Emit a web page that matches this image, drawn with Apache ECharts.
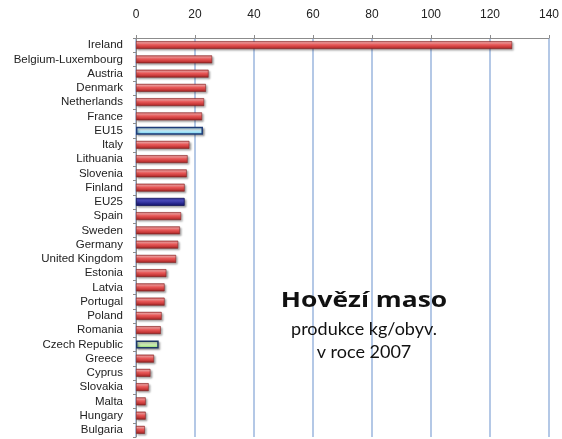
<!DOCTYPE html>
<html><head><meta charset="utf-8">
<script src="https://cdn.jsdelivr.net/npm/echarts@6/dist/echarts.min.js"></script>
<style>html,body{margin:0;padding:0;background:#fff}#c{width:562px;height:439px}</style>
</head><body><div id="c"></div>
<script>
const categories = ["Ireland","Belgium-Luxembourg","Austria","Denmark","Netherlands","France","EU15","Italy","Lithuania","Slovenia","Finland","EU25","Spain","Sweden","Germany","United Kingdom","Estonia","Latvia","Portugal","Poland","Romania","Czech Republic","Greece","Cyprus","Slovakia","Malta","Hungary","Bulgaria"];
const values = [127.5,25.8,24.6,23.7,23.1,22.4,22.7,18.1,17.5,17.2,16.5,16.5,15.3,14.9,14.3,13.6,10.3,9.7,9.7,8.7,8.4,7.7,6.1,4.9,4.3,3.3,3.3,3.0];
const xTicks = {min:0, max:140, interval:20};
const titleLines = ["Hovězí maso","produkce kg/obyv.","v roce 2007"];

function grad(stops){return new echarts.graphic.LinearGradient(0,0,0,1,stops.map((c,i)=>({offset:c[0],color:c[1]})));}
const redFill = grad([[0,'#b83a3a'],[0.2,'#ffa0a0'],[0.45,'#ec5a5a'],[0.8,'#c03434'],[1,'#7e1e1e']]);
const styles = {
  "EU15": {color: grad([[0,'#8fdcf5'],[0.35,'#e6faff'],[0.7,'#9fe3f8'],[1,'#5ab8dc']]), borderColor:'#1f3c78', borderWidth:1.5},
  "EU25": {color: grad([[0,'#3030a0'],[0.3,'#5050c8'],[0.7,'#28288e'],[1,'#16166a']]), borderColor:'#14145a', borderWidth:0.8},
  "Czech Republic": {color: grad([[0,'#b0e890'],[0.35,'#eaffd8'],[0.7,'#b8ec98'],[1,'#84c862']]), borderColor:'#1f3864', borderWidth:1.5}
};
const data = categories.map((c,i)=>{
  const s = styles[c] || {color: redFill, borderColor:'#8a2626', borderWidth:0.6};
  return {value: values[i], itemStyle: Object.assign({shadowBlur:2, shadowOffsetX:1.5, shadowOffsetY:1.5, shadowColor:'rgba(0,0,0,0.35)'}, s)};
});

const chart = echarts.init(document.getElementById('c'), null, {renderer:'canvas'});
const tfont = 'Lato, "Open Sans", sans-serif';
chart.setOption({
  animation:false,
  grid:{left:136, right:12, top:38, bottom:2, containLabel:false},
  xAxis:{type:'value', position:'top', min:xTicks.min, max:xTicks.max, interval:xTicks.interval,
    axisLine:{show:true, lineStyle:{color:'#8c8c8c', width:1}},
    axisTick:{show:true, inside:false, length:3, lineStyle:{color:'#8c8c8c'}},
    axisLabel:{margin:17, color:'#222', fontFamily:'Liberation Sans Narrow, Liberation Sans, Arial', fontSize:12},
    splitLine:{show:true, lineStyle:{color:'#b4c8e6', width:2}}},
  yAxis:{type:'category', inverse:true, data:categories,
    axisLine:{show:true, lineStyle:{color:'#8c8c8c'}},
    axisTick:{show:true, length:3, lineStyle:{color:'#8c8c8c'}},
    axisLabel:{interval:0, margin:13, color:'#222', fontFamily:'Liberation Sans', fontSize:11.5}},
  series:[{type:'bar', data:data, barWidth:8}],
  graphic:[
    {type:'text', x:364, y:301, z:100, scaleX:1.2, style:{text:titleLines[0], font:'bold 22px "Open Sans", sans-serif', fill:'#111', align:'center', verticalAlign:'middle', textAlign:'center', textVerticalAlign:'middle'}},
    {type:'text', x:364, y:329, z:100, style:{text:titleLines[1], font:'18px '+tfont, fill:'#111', align:'center', verticalAlign:'middle', textAlign:'center', textVerticalAlign:'middle'}},
    {type:'text', x:364, y:352, z:100, style:{text:titleLines[2], font:'18px '+tfont, fill:'#111', align:'center', verticalAlign:'middle', textAlign:'center', textVerticalAlign:'middle'}}
  ]
});
</script></body></html>
